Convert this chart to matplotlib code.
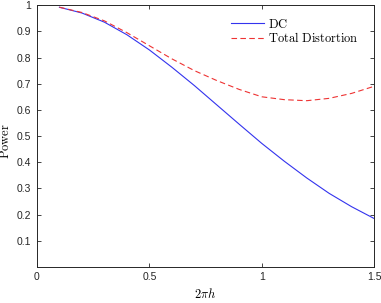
import matplotlib
matplotlib.use("Agg")
import matplotlib.pyplot as plt

plt.rcParams["mathtext.fontset"] = "cm"
plt.rcParams["font.family"] = ["Liberation Sans", "DejaVu Sans"]

# values
h = [0.1, 0.2, 0.3, 0.4, 0.5, 0.6, 0.7, 0.8, 0.9, 1.0, 1.1, 1.2, 1.3, 1.4, 1.5]
dc = [0.992, 0.970, 0.935, 0.887, 0.829, 0.763, 0.693, 0.619, 0.545,
      0.472, 0.404, 0.340, 0.281, 0.230, 0.185]
total_dist = [0.992, 0.972, 0.940, 0.895, 0.845, 0.795, 0.750, 0.712, 0.678,
              0.650, 0.639, 0.635, 0.644, 0.663, 0.690]

xticks = [0, 0.5, 1, 1.5]
yticks = [0.1, 0.2, 0.3, 0.4, 0.5, 0.6, 0.7, 0.8, 0.9, 1]

fig = plt.figure(figsize=(3.81, 3.03), dpi=100)
ax = fig.add_axes([0.097, 0.119, 0.885, 0.864])

ax.plot(h, dc, color="#3333ee", lw=0.8, label=r"$\mathrm{DC}$")
ax.plot(h, total_dist, color="#ee3333", lw=0.8, ls=(0, (5, 3)),
        label=r"$\mathrm{Total\ Distortion}$")

ax.set_xlim(0, 1.5)
ax.set_ylim(0, 1)
ax.set_xticks(xticks)
ax.set_xticklabels(["0", "0.5", "1", "1.5"])
ax.set_yticks(yticks)
ax.set_yticklabels(["0.1", "0.2", "0.3", "0.4", "0.5", "0.6", "0.7", "0.8", "0.9", "1"])
ax.tick_params(direction="in", length=3, width=0.6, labelsize=7.5,
               top=True, right=True, colors="#262626", pad=4)
for s in ax.spines.values():
    s.set_linewidth(0.7)
    s.set_color("#262626")

ax.set_xlabel(r"$2\pi h$", fontsize=9, labelpad=3)
ax.set_ylabel(r"$\mathrm{Power}$", fontsize=9)
ax.yaxis.set_label_coords(-0.075, 0.48)

leg = ax.legend(loc="upper right", frameon=False, fontsize=9,
                handlelength=2.6, handletextpad=0.3, labelspacing=0.05,
                borderaxespad=0.6, bbox_to_anchor=(0.99, 1.0))

fig.savefig("out.png", dpi=100)
